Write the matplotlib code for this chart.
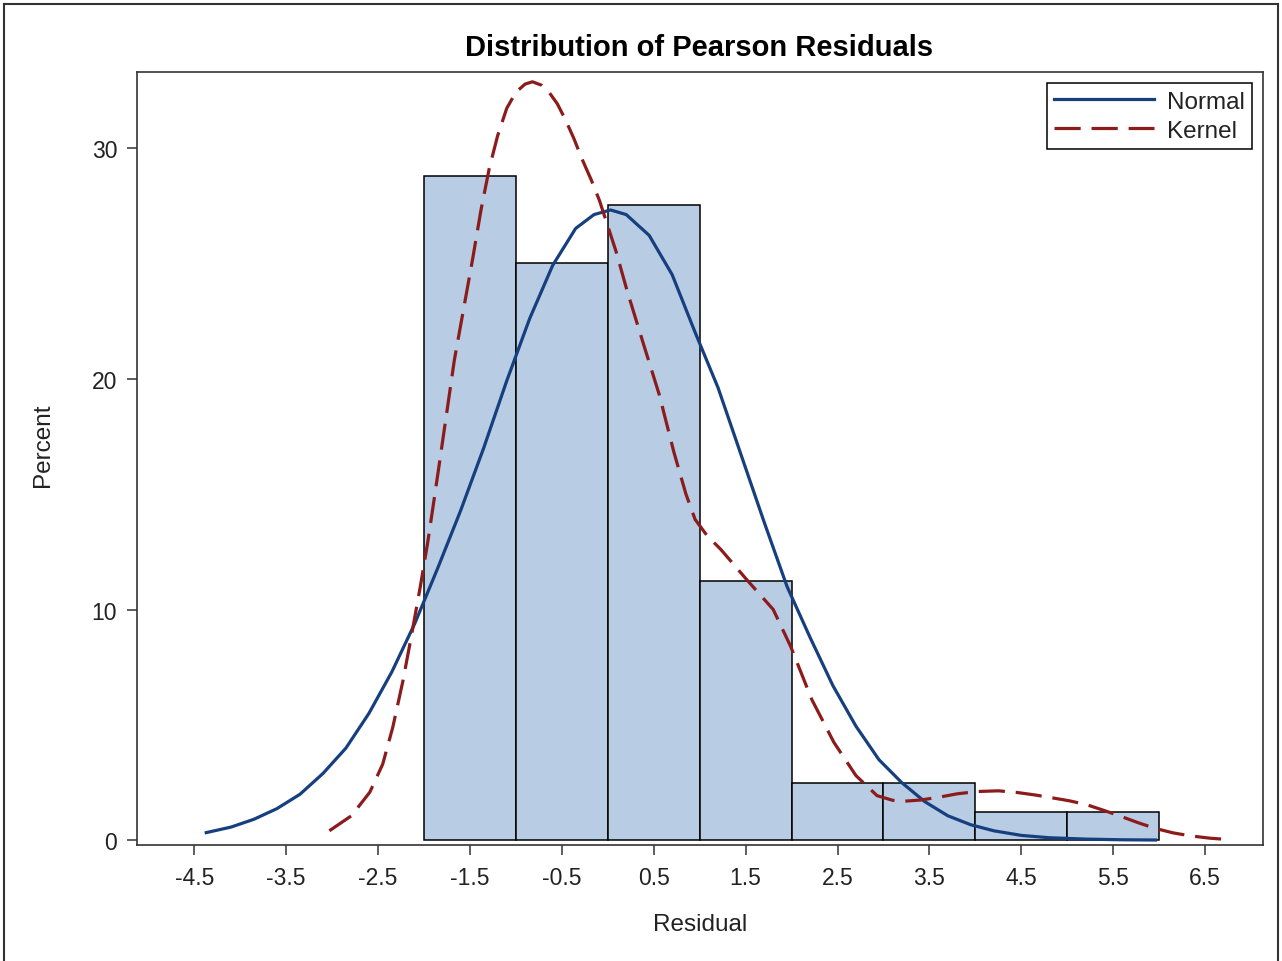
import matplotlib
matplotlib.use("Agg")
import matplotlib.pyplot as plt
from matplotlib.lines import Line2D

# histogram of Pearson residuals (percent per unit-width bin)
bin_left = [-2, -1, 0, 1, 2, 3, 4, 5]
percent = [28.75, 25.0, 27.5, 11.25, 2.5, 2.5, 1.25, 1.25]

# fitted normal density
normal_x = [-4.37, -4.1, -3.85, -3.6, -3.35, -3.1, -2.85, -2.6, -2.35, -2.1,
            -1.85, -1.6, -1.35, -1.1, -0.85, -0.6, -0.35, -0.15, 0.03, 0.2,
            0.45, 0.7, 0.95, 1.2, 1.45, 1.7, 1.95, 2.2, 2.45, 2.7,
            2.95, 3.2, 3.45, 3.7, 3.95, 4.2, 4.5, 4.8, 5.2, 5.6, 5.96]
normal_y = [0.34, 0.58, 0.92, 1.38, 2.0, 2.9, 4.0, 5.5, 7.3, 9.4,
            11.8, 14.3, 17.0, 19.9, 22.6, 24.9, 26.5, 27.1, 27.3, 27.1,
            26.2, 24.5, 22.0, 19.6, 16.7, 13.8, 11.0, 8.8, 6.7, 4.95,
            3.5, 2.5, 1.68, 1.07, 0.68, 0.42, 0.22, 0.12, 0.06, 0.03, 0.02]

# kernel density estimate
kernel_x = [-3.03, -2.79, -2.59, -2.45, -2.34, -2.23, -2.14, -2.04, -1.96, -1.90,
            -1.83, -1.67, -1.47, -1.38, -1.29, -1.2, -1.1, -1.0, -0.9, -0.82,
            -0.72, -0.64, -0.55, -0.46, -0.37, -0.28, -0.18, -0.09, 0.0, 0.09,
            0.21, 0.38, 0.56, 0.72, 0.85, 0.95, 1.08, 1.23, 1.51, 1.80,
            1.99, 2.22, 2.46, 2.70, 2.93, 3.10, 3.22, 3.40, 3.60, 3.80,
            4.02, 4.25, 4.45, 4.65, 4.83, 5.02, 5.21, 5.40, 5.58, 5.77,
            5.96, 6.15, 6.34, 6.55, 6.79]
kernel_y = [0.42, 1.07, 2.09, 3.3, 4.9, 6.9, 8.8, 11.0, 12.9, 14.5,
            16.4, 20.8, 25.2, 27.3, 29.1, 30.5, 31.7, 32.4, 32.75, 32.85,
            32.7, 32.4, 31.9, 31.2, 30.4, 29.5, 28.6, 27.7, 26.6, 25.5,
            23.8, 21.6, 19.3, 16.8, 15.0, 13.9, 13.2, 12.6, 11.3, 10.0,
            8.4, 6.1, 4.25, 2.81, 1.94, 1.74, 1.70, 1.75, 1.87, 2.02,
            2.12, 2.15, 2.08, 1.97, 1.85, 1.72, 1.55, 1.30, 1.05, 0.77,
            0.52, 0.33, 0.20, 0.10, 0.03]

x_ticks = [-4.5, -3.5, -2.5, -1.5, -0.5, 0.5, 1.5, 2.5, 3.5, 4.5, 5.5, 6.5]
x_labels = ["-4.5", "-3.5", "-2.5", "-1.5", "-0.5", "0.5", "1.5", "2.5",
            "3.5", "4.5", "5.5", "6.5"]
y_ticks = [0, 10, 20, 30]

plt.rcParams["font.family"] = ["Liberation Sans", "DejaVu Sans"]

fig = plt.figure(figsize=(12.82, 9.62), dpi=100)
ax = fig.add_axes([0.1066, 0.1206, 0.8786, 0.8032])

ax.bar(bin_left, percent, width=1.0, align="edge", color="#B8CCE4",
       edgecolor="black", linewidth=1.1, zorder=2)
ax.plot(normal_x, normal_y, color="#163F7F", linewidth=2.3, label="Normal",
        solid_joinstyle="round", zorder=3)
ax.plot(kernel_x, kernel_y, color="#8C1C1C", linewidth=2.3, dashes=(8.2, 3.4),
        label="Kernel", zorder=4)

ax.set_xlim(-5.127, 7.13)
ax.set_ylim(-0.195, 33.26)
ax.set_xticks(x_ticks)
ax.set_xticklabels(x_labels)
ax.set_yticks(y_ticks)
ax.tick_params(axis="both", length=7, width=1.1, color="#333333",
               labelsize=16.5, labelcolor="#222222")
ax.tick_params(axis="x", pad=8)
ax.tick_params(axis="y", pad=7)
for sp in ax.spines.values():
    sp.set_linewidth(1.2)
    sp.set_color("#333333")

ax.set_xlabel("Residual", fontsize=17.5, color="#222222")
ax.xaxis.set_label_coords(0.5, -0.088)
ax.set_ylabel("Percent", fontsize=17.5, color="#222222")
ax.yaxis.set_label_coords(-0.073, 0.519)

fig.text(0.5452, 1 - 48 / 962, "Distribution of Pearson Residuals",
         ha="center", va="center", fontsize=21, fontweight="bold")

leg = ax.legend(loc="upper right", fontsize=17.5, frameon=True, fancybox=False,
                framealpha=1, edgecolor="black", borderpad=0.3, labelspacing=0.3,
                handlelength=4.1, handletextpad=0.55, borderaxespad=0.45)
leg.get_frame().set_linewidth(1.1)
for t in leg.get_texts():
    t.set_color("#222222")

# outer frame of the graph
fig.add_artist(Line2D([0.003, 0.997], [0.9948, 0.9948], color="#333333", linewidth=1.5))
fig.add_artist(Line2D([0.003, 0.003], [0.0, 0.9948], color="#333333", linewidth=1.5))
fig.add_artist(Line2D([0.997, 0.997], [0.0, 0.9948], color="#333333", linewidth=1.5))

fig.savefig("out.png", dpi=100)
